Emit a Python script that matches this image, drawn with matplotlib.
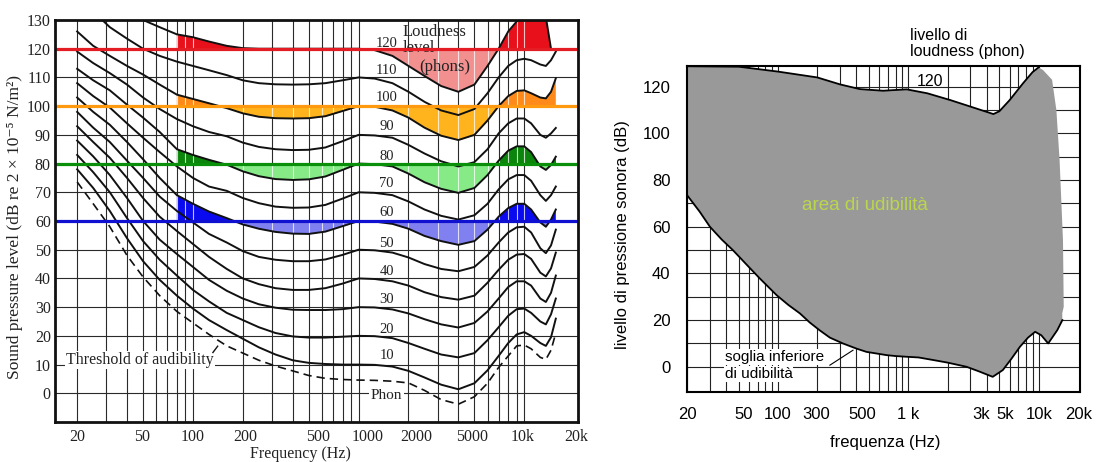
import numpy as np
import matplotlib
matplotlib.use("Agg")
import matplotlib.pyplot as plt
from matplotlib.ticker import NullLocator
from matplotlib.path import Path

nan = np.nan

# ---------------- left panel: equal-loudness contours ----------------
freq = [20, 25, 31.5, 40, 50, 63, 80, 100, 125, 160, 200, 250, 315, 400, 500, 630, 800,
        1000, 1250, 1600, 2000, 2500, 3150, 4000, 5000, 6000, 7000, 8000, 9000, 10000,
        11000, 12500, 13500, 14500, 15500]

threshold = [73.6, 66, 58, 48, 40.5, 34, 28.5, 24.5, 20.5, 16.5, 14, 11.5, 9.5, 7.8, 6.2, 5.2, 4.8,
             4.6, 4.5, 4.2, 3.6, 1.0, -2.2, -3.8, -1.2, 3.5, 9, 13, 16.5, 16.8,
             15.5, 12.5, 11.8, 15, 21]
phon_10 = [78, 71.5, 63.5, 54, 46, 39.5, 34, 29.5, 25.5, 22, 19, 16, 13.5, 11.5, 10.6, 10.2, 10,
           10, 9.9, 9.3, 7.8, 5.5, 3, 1.4, 3.5, 8, 13, 17.5, 20.5, 21.3,
           20, 17.5, 16.5, 19.5, 26]
phon_20 = [83, 77, 70, 61, 53, 46.5, 41, 36, 32, 28, 25.5, 23, 21, 19.8, 19.4, 19.4, 19.7,
           20, 19.9, 19.2, 17.5, 15.5, 13.5, 12.5, 14, 18.5, 23, 27, 29.3, 29.5,
           28, 25, 24, 27.5, 33]
phon_30 = [88, 82.5, 76, 68, 60, 53.5, 48.5, 44, 39.5, 35.7, 33, 31, 29.8, 29.1, 29, 29, 29.3,
           30, 29.9, 29.2, 27.8, 25.8, 24, 22.9, 24.5, 28.5, 33, 37, 39, 39,
           37.5, 33, 31.8, 35, 41]
phon_40 = [93, 87.5, 82, 75, 68, 61.5, 56.5, 52, 47.5, 43.3, 40, 38, 36.6, 36, 36, 36.6, 38.2,
           40, 39.8, 39, 37.5, 35.2, 33.5, 32.6, 34, 38.5, 43, 46.5, 48.3, 48.5,
           46.8, 42, 40.7, 43.5, 49]
phon_50 = [98, 92.5, 87.5, 81, 75, 68.5, 63.5, 59.5, 55.5, 52.5, 49.5, 47.5, 46.5, 46, 46, 46.6, 48.2,
           50, 49.8, 49, 47.3, 45, 43.3, 42.5, 44, 48, 52.5, 56, 57.8, 58,
           56, 50.5, 48.8, 51.5, 57]
phon_60 = [103, 98, 93.5, 87.5, 81.5, 75, 69, 66, 63.3, 61, 58.8, 57.3, 56.2, 55.6, 55.5, 56.3, 58.2,
           60, 59.8, 59, 57.3, 54.8, 53, 51.7, 53, 57, 61.5, 64.5, 66, 66,
           64, 59.5, 58, 60.5, 64]
phon_70 = [108, 103.5, 99.5, 94, 89, 84, 79, 75, 72, 70.5, 68, 66.2, 65, 64.6, 64.7, 65.6, 67.8,
           70, 69.8, 69, 66.8, 64, 61.8, 60.5, 62, 66, 71, 74.5, 76, 76,
           74, 69, 67, 69, 72]
phon_80 = [113, 109, 105.5, 100.5, 96, 91, 85, 83, 81.3, 79.6, 77.3, 75.6, 74.6, 74.3, 74.5, 75.5, 77.8,
           80, 79.8, 79, 76.5, 73.5, 71.2, 69.8, 71.5, 76, 81, 84.5, 86, 86,
           84, 79, 77.8, 79.5, 82.4]
phon_90 = [119, 115, 111.5, 107.5, 103, 99, 95.5, 93, 91, 89.5, 87.3, 85.8, 85, 84.7, 84.8, 85.6, 87.8,
           90, 89.8, 89, 86.5, 83.5, 80.8, 79, 80.5, 85, 90.5, 94, 95.7, 95.7,
           94, 90, 89, 90.5, 92.4]
phon_100 = [126, 121, 117.5, 114, 111, 107.5, 104, 102.5, 101, 99.3, 97.5, 96.3, 95.8, 95.7, 95.8, 96.5, 98.3,
            100, 99.8, 98.5, 96, 92.5, 89.7, 88.2, 90, 95, 100, 103.5, 105.3, 105.5,
            104.5, 103, 102.7, 105, 109.7]
phon_110 = [nan, 133, 127.5, 123.5, 120, 117.5, 115.5, 114, 112.5, 110.8, 109, 108, 107.6, 107.5, 107.6, 108, 109,
            110, 109.6, 108, 105, 101.5, 98.5, 96.9, 99, 104.5, 110, 114, 116, 116.5,
            116, 114.5, 114, 116, 119]
phon_120 = [nan, nan, nan, 134, 130, 127.5, 125, 124, 122.5, 121, 120.2, 120, 120, 120, 120, 120, 120,
            120, 119.5, 117.5, 114, 110.5, 107, 105, 107.5, 114, 120, 126, 129.5, 132,
            133, 133, 131, 120, nan]

phon_levels = [10, 20, 30, 40, 50, 60, 70, 80, 90, 100, 110, 120]
phon_curves = [phon_10, phon_20, phon_30, phon_40, phon_50, phon_60,
               phon_70, phon_80, phon_90, phon_100, phon_110, phon_120]
label_db = [13, 22.2, 32.6, 42.5, 52.3, 62.8, 73.2, 82.4, 92.8, 102.9, 112.5, 121.8]

band_levels = [120, 100, 80, 60]
band_line_colors = ["#e41c24", "#ff9a10", "#0a8f0a", "#1010d0"]
band_above_colors = ["#e8101a", "#ff8a1a", "#0b850b", "#0a0af0"]
band_below_colors = ["#f29090", "#ffb41e", "#86ea86", "#8080f0"]

left_tick_labels = ["20", "50", "100", "200", "500", "1000", "2000", "5000", "10k", "20k"]
left_tick_pos = [20, 49.3, 100, 208, 566, 1133, 2234, 4862, 9730, 20560]

# ---------------- right panel: area of audibility ----------------
r_upper_f = [20, 50, 100, 200, 300, 425, 640, 970, 1400, 2100, 3000, 4500, 5000, 6000, 7600, 9000, 10000]
r_upper_db = [128.8, 128.6, 126.5, 124, 121, 119, 118.3, 118.9, 117.2, 114.3, 111.5, 108.3, 109.5, 114.3,
              121.5, 126.3, 128.3]
r_edge_f = [10800, 12700, 13700, 14500, 15400, 15600, 15200]
r_edge_db = [127.2, 123, 110, 88.6, 54, 25.7, 23]
r_lower_f = [20, 25, 30, 37, 45, 58, 72, 97.5, 120, 147, 175, 208, 250, 315, 400, 477, 681, 800,
             971, 1200, 1554, 2000, 2803, 3500, 4446, 5316, 6200, 7200, 8300, 9410, 10500, 11850,
             13920, 15230]
r_lower_db = [73.6, 66.5, 60, 54.5, 50, 43.5, 38, 30.7, 26.5, 22.9, 19, 15.7, 12.5, 10, 7.8, 6.4, 5,
              4.6, 4.3, 4, 2.9, 1.8, 0, -2.0, -4.3, -1.4, 3.5, 8.6, 12.5, 15, 13.5, 10,
              15.7, 20]

right_tick_labels = ["20", "50", "100", "300", "500", "1 k", "3k", "5k", "10k", "20k"]
right_tick_pos = [20, 54.7, 100, 195, 441, 994, 3608, 5512, 10050, 20380]

grid_f = [20, 30, 40, 50, 60, 70, 80, 90, 100, 200, 300, 400, 500, 600, 700, 800, 900,
          1000, 2000, 3000, 4000, 5000, 6000, 7000, 8000, 9000, 10000]

# ---------------- figure ----------------
W, H = 1097, 462
fig = plt.figure(figsize=(W / 100, H / 100), dpi=100)

SERIF = ["Liberation Serif", "DejaVu Serif"]
SANS = ["Liberation Sans", "DejaVu Sans"]


def rect(l, t, r, b):
    return [l / W, 1 - b / H, (r - l) / W, (b - t) / H]


# ===== left =====
axL = fig.add_axes(rect(55, 20, 578, 422))
axL.set_xscale("log")
axL.set_xlim(14.7, 21100)
axL.set_ylim(-10, 130)
axL.vlines(grid_f, -10, 130, color="#2a2a2a", lw=0.8, zorder=1)
axL.hlines(np.arange(0, 130, 10), 14.7, 21100, color="#2a2a2a", lw=0.8, zorder=1)

f_arr = np.array(freq)
fill_paths = []
for lev, curve, ca, cb in zip(band_levels, [phon_120, phon_100, phon_80, phon_60],
                              band_above_colors, band_below_colors):
    c = np.array(curve, dtype=float)
    ok = np.isfinite(c) & (f_arr >= 80)
    cc = np.where(np.isfinite(c), c, lev)
    for where, col in ((ok & (cc >= lev), ca), (ok & (cc <= lev), cb)):
        pc = axL.fill_between(f_arr, lev, cc, where=where, interpolate=True,
                              color=col, lw=0, zorder=2)
        fill_paths.extend(pc.get_paths())

# faint white grid lines showing through the coloured areas
if fill_paths:
    clip = Path.make_compound_path(*fill_paths)
    wl = axL.vlines(grid_f, -10, 130, color="white", lw=0.8, alpha=0.75, zorder=2.5)
    wl.set_clip_path(clip, axL.transData)

for curve in phon_curves:
    axL.plot(freq, curve, color="#111111", lw=1.4, zorder=3)
axL.plot(freq, threshold, color="#111111", lw=1.2, ls=(0, (5, 3)), zorder=3)

for lev, col in zip(band_levels, band_line_colors):
    axL.axhline(lev, color=col, lw=2.3, zorder=4)

for lev, yv in zip(phon_levels, label_db):
    axL.text(1475, yv, str(lev), fontsize=10.5, family=SERIF, ha="center", va="center",
             color="#222222", zorder=5)
axL.text(1475, -0.9, "Phon", fontsize=11, family=SERIF, ha="center", va="center",
         color="#222222", zorder=5,
         bbox=dict(facecolor="white", edgecolor="none", pad=1.0))
axL.text(1838, 125.8, "Loudness", fontsize=12, family=SERIF, ha="left", va="center",
         color="#222222", zorder=3.5)
axL.text(1838, 120.1, "level", fontsize=12, family=SERIF, ha="left", va="center",
         color="#222222", zorder=3.5)
axL.text(2328, 113.6, "(phons)", fontsize=12, family=SERIF, ha="left", va="center",
         color="#222222", zorder=5)
axL.text(17.2, 11.6, "Threshold of audibility", fontsize=11.5, family=SERIF, ha="left",
         va="center", color="#222222", zorder=5,
         bbox=dict(facecolor="white", edgecolor="none", pad=1.0))
axL.plot([132, 141], [14.2, 16.4], color="#111111", lw=1.0, zorder=5)

axL.set_xticks(left_tick_pos)
axL.set_xticklabels(left_tick_labels)
axL.xaxis.set_minor_locator(NullLocator())
axL.set_yticks(np.arange(0, 131, 10))
axL.tick_params(length=0, labelsize=11.5)
axL.tick_params(axis="x", pad=5)
axL.tick_params(axis="y", pad=3)
for t in axL.get_xticklabels() + axL.get_yticklabels():
    t.set_family(SERIF)
    t.set_color("#222222")
for s in axL.spines.values():
    s.set_linewidth(2.0)
    s.set_color("#111111")
    s.set_zorder(6)
axL.set_xlabel("Frequency (Hz)", family=SERIF, fontsize=11.5, color="#222222")
axL.xaxis.set_label_coords((300 - 55) / 523, (422 - 454) / 402)
axL.xaxis.label.set_va("center")
axL.set_ylabel("Sound pressure level (dB re 2 × 10⁻⁵ N/m²)", family=SERIF,
               fontsize=12.5, color="#222222")
axL.yaxis.set_label_coords((15 - 55) / 523, (422 - 227) / 402)
axL.yaxis.label.set_va("center")

# ===== right =====
axR = fig.add_axes(rect(687, 66, 1080, 392))
axR.set_xscale("log")
axR.set_xlim(20, 20800)
axR.set_ylim(-10.8, 128.9)
axR.vlines(grid_f, -10.8, 128.9, color="#222222", lw=0.8, zorder=1)
axR.hlines(np.arange(0, 128, 10), 20, 20800, color="#222222", lw=0.8, zorder=1)

poly_f = r_upper_f + r_edge_f + r_lower_f[::-1]
poly_db = r_upper_db + r_edge_db + r_lower_db[::-1]
axR.fill(poly_f, poly_db, color="#999999", lw=0, zorder=2)
axR.plot(r_upper_f, r_upper_db, color="black", lw=1.3, zorder=3)
axR.plot(r_lower_f, r_lower_db, color="black", lw=1.3, zorder=3)

axR.text(1462, 122.1, "120", fontsize=11.5, family=SANS, ha="center", va="center", zorder=4)
axR.text(465, 69.3, "area di udibilità", fontsize=13.5, family=SANS, ha="center",
         va="center", color="#b9d64c", zorder=4)
axR.text(39, 4.3, "soglia inferiore", fontsize=11, family=SANS, ha="left", va="center",
         zorder=4, bbox=dict(facecolor="white", edgecolor="none", pad=0.5))
axR.text(39, -3.1, "di udibilità", fontsize=11, family=SANS, ha="left", va="center",
         zorder=4, bbox=dict(facecolor="white", edgecolor="none", pad=0.5))
axR.plot([250, 376], [0.7, 7.1], color="black", lw=0.8, zorder=4)

fig.text(910 / W, 1 - 35 / H, "livello di", fontsize=11.5, family=SANS, ha="left", va="center")
fig.text(910 / W, 1 - 51.7 / H, "loudness (phon)", fontsize=11.5, family=SANS, ha="left",
         va="center")

axR.set_xticks(right_tick_pos)
axR.set_xticklabels(right_tick_labels)
axR.xaxis.set_minor_locator(NullLocator())
axR.set_yticks(np.arange(0, 121, 20))
axR.tick_params(length=0, labelsize=12)
axR.tick_params(axis="x", pad=11)
axR.tick_params(axis="y", pad=12)
for t in axR.get_xticklabels() + axR.get_yticklabels():
    t.set_family(SANS)
for s in axR.spines.values():
    s.set_linewidth(1.5)
    s.set_zorder(6)
axR.set_xlabel("frequenza (Hz)", family=SANS, fontsize=12)
axR.xaxis.set_label_coords((885 - 687) / 393, (392 - 443) / 326)
axR.xaxis.label.set_va("center")
axR.set_ylabel("livello di pressione sonora (dB)", family=SANS, fontsize=12)
axR.yaxis.set_label_coords((622 - 687) / 393, (392 - 235) / 326)
axR.yaxis.label.set_va("center")

fig.savefig("out.png", dpi=100)
